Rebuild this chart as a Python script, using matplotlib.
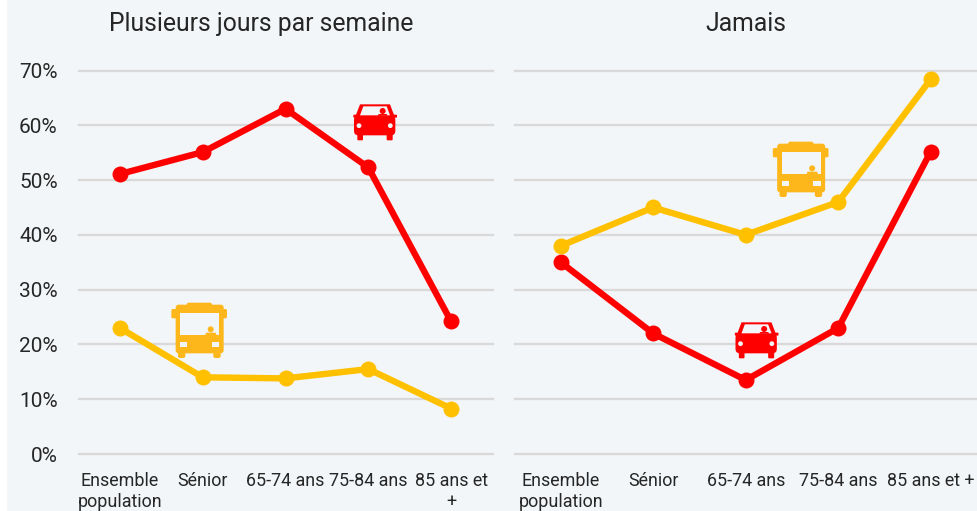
import matplotlib
matplotlib.use("Agg")
import matplotlib.pyplot as plt
from matplotlib.patches import Rectangle, Circle, FancyBboxPatch, Polygon
from matplotlib.transforms import IdentityTransform

plt.rcParams['font.family'] = ['Roboto', 'DejaVu Sans']

categories_left = ["Ensemble\npopulation", "Sénior", "65-74 ans", "75-84 ans", "85 ans et\n+"]
categories_right = ["Ensemble\npopulation", "Sénior", "65-74 ans", "75-84 ans", "85 ans et +"]
panel_titles = ["Plusieurs jours par semaine", "Jamais"]
voiture_plusieurs = [51.1, 55.1, 63, 52.3, 24.2]
bus_plusieurs = [23, 14, 13.8, 15.5, 8.3]
voiture_jamais = [35, 22, 13.5, 23, 55.2]
bus_jamais = [38, 45, 40, 46, 68.4]
yticks = [0, 10, 20, 30, 40, 50, 60, 70]

RED = "#ff0000"
YEL = "#ffc000"
BUSC = "#fdb71a"
BG = "#f3f6f8"
GRID = "#d9d9d9"
TXT = "#262626"
W, H = 977, 511

fig = plt.figure(figsize=(W / 100, H / 100), dpi=100, facecolor="white")
fig.patches.append(Rectangle((7 / W, 0), 1 - 7 / W, 1, transform=fig.transFigure, facecolor=BG, edgecolor="none", zorder=-5))


def make_axes(x0, x1):
    y0, y1 = 454.0, 70.5
    ax = fig.add_axes([x0 / W, 1 - y0 / H, (x1 - x0) / W, (y0 - y1) / H])
    ax.patch.set_alpha(0)
    ax.set_xlim(-0.5, 4.5)
    ax.set_ylim(0, 70)
    ax.set_yticks(yticks)
    ax.set_xticks(range(5))
    for s in ax.spines.values():
        s.set_visible(False)
    ax.grid(axis="y", color=GRID, lw=1.7, clip_on=False)
    ax.set_axisbelow(True)
    ax.tick_params(length=0)
    return ax


def draw(ax, a, b):
    for vals, col in ((a, RED), (b, YEL)):
        line, = ax.plot(range(5), vals, color=col, lw=4.6, marker="o", ms=11.5, mew=0, clip_on=False, zorder=3)
        line.set_solid_capstyle("round")


axL = make_axes(78.5, 492.5)
axR = make_axes(514.5, 977)
draw(axL, voiture_plusieurs, bus_plusieurs)
draw(axR, voiture_jamais, bus_jamais)

for ax, t, cx, cats in ((axL, panel_titles[0], 261.5, categories_left), (axR, panel_titles[1], 746, categories_right)):
    fig.text(cx / W, 1 - 24 / H, t, ha="center", va="center", fontsize=17.8, color=TXT)
    ax.set_xticklabels(cats, fontsize=12.9, color=TXT, linespacing=1.22)
    ax.tick_params(axis="x", pad=13)

axL.set_yticklabels([f"{v}%" for v in yticks], fontsize=15, color=TXT)
axL.tick_params(axis="y", pad=15)
axR.tick_params(axis="y", labelleft=False)

tr = IdentityTransform()


def rect(x, y, w, h, c, r=0, z=6):
    yy = H - (y + h)
    if r:
        p = FancyBboxPatch((x + r, yy + r), w - 2 * r, h - 2 * r, boxstyle=f"round,pad={r},rounding_size={r}",
                           fc=c, ec="none", transform=tr, zorder=z)
    else:
        p = Rectangle((x, yy), w, h, fc=c, ec="none", transform=tr, zorder=z)
    fig.add_artist(p)


def circ(x, y, r, c, z=8):
    fig.add_artist(Circle((x, H - y), r, fc=c, ec="none", transform=tr, zorder=z))


def poly(pts, c, z=7):
    fig.add_artist(Polygon([(x, H - y) for x, y in pts], closed=True, fc=c, ec="none", transform=tr, zorder=z))


def bus(dx, dy):
    X, Y = lambda v: 150 + v / 3 + dx, lambda v: 290 + v / 3 + dy
    def R(x0, y0, x1, y1, c=BUSC, r=0, z=6):
        rect(X(x0), Y(y0), (x1 - x0) / 3, (y1 - y0) / 3, c, r, z)
    R(110, 38, 186, 55, r=2)
    R(77, 44, 221, 190, r=3)
    R(64, 57, 80, 85, r=1.5)
    R(218, 57, 231, 85, r=1.5)
    R(84, 180, 106, 204, r=2)
    R(190, 180, 212, 204, r=2)
    R(90, 68, 207, 136, BG, z=7)
    poly([(X(165), Y(137)), (X(168), Y(128)), (X(197), Y(128)), (X(200), Y(137))], BUSC, 8)
    circ(X(182), Y(118), 3.0, BUSC)
    R(90, 155, 112, 170, BG, z=7)
    R(185, 155, 207, 170, BG, z=7)


def car(dx, dy):
    X, Y = lambda v: 340 + v / 3 + dx, lambda v: 90 + v / 3 + dy
    poly([(X(46), Y(80)), (X(60), Y(43)), (X(150), Y(43)), (X(164), Y(80))], RED, 6)
    rect(X(40), Y(74), 131 / 3, 9 / 3, RED, 0.8, 6)
    rect(X(42), Y(76), 124 / 3, 60 / 3, RED, 4.5, 6)
    rect(X(52), Y(130), 17 / 3, 21 / 3, RED, 1, 6)
    rect(X(140), Y(130), 18 / 3, 21 / 3, RED, 1, 6)
    poly([(X(60), Y(76)), (X(70), Y(49)), (X(140), Y(49)), (X(150), Y(76))], BG, 7)
    poly([(X(113), Y(77)), (X(116), Y(72)), (X(140), Y(72)), (X(143), Y(77))], RED, 8)
    circ(X(128), Y(63), 3.0, RED)
    circ(X(57), Y(107), 2.4, BG)
    circ(X(151), Y(107), 2.4, BG)


bus(0, 0)
bus(601.5, -161)
car(0, 0)
car(381.5, 218)

fig.savefig("out.png", dpi=100, facecolor="white")
